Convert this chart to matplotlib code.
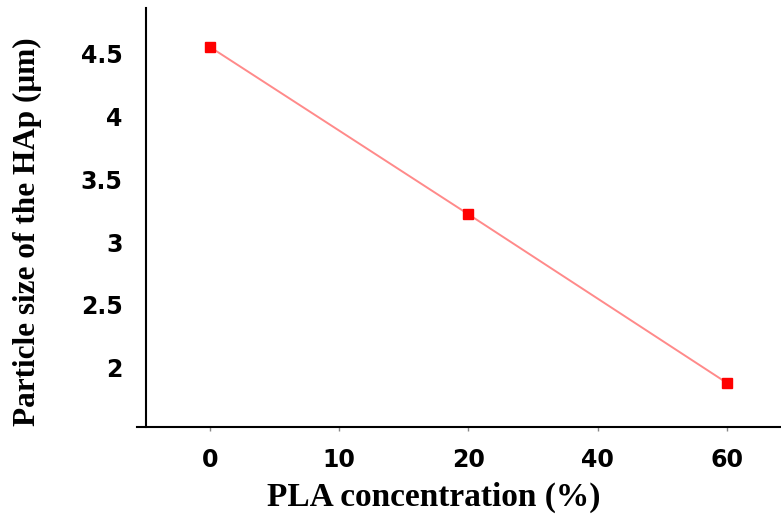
import matplotlib
matplotlib.use('Agg')
import matplotlib.pyplot as plt

# x categories are evenly spaced on the axis
tick_labels = ['0', '10', '20', '40', '60']
pla_conc = ['0', '20', '60']
particle_size = [4.55, 3.22, 1.88]

fig = plt.figure(figsize=(7.81, 5.17), dpi=100)
ax = fig.add_axes([137 / 781, 90 / 517, 1 - 137 / 781, 419 / 517])

xpos = [tick_labels.index(c) for c in pla_conc]
ax.plot(xpos, particle_size, color='#ff8a8a', linewidth=1.4, zorder=2)
ax.plot(xpos, particle_size, linestyle='none', marker='s', markersize=6.5,
        color='#ff0000', zorder=3)

ax.set_xlim(-0.565, 4.418)
ax.set_ylim(1.53, 4.86)
ax.set_xticks(range(len(tick_labels)))
ax.set_xticklabels(tick_labels)
ax.set_yticks([2, 2.5, 3, 3.5, 4, 4.5])
ax.set_yticklabels(['2', '2.5', '3', '3.5', '4', '4.5'])

for s in ['top', 'right']:
    ax.spines[s].set_visible(False)
ax.spines['left'].set_position(('data', -0.495))
ax.spines['left'].set_linewidth(1.5)
ax.spines['bottom'].set_linewidth(1.5)

ax.tick_params(axis='x', length=3, width=1, color='#888888', pad=12,
               labelsize=17)
ax.tick_params(axis='y', length=0, pad=17, labelsize=17)
for lab in ax.get_xticklabels() + ax.get_yticklabels():
    lab.set_fontweight('bold')

ax.set_xlabel('PLA concentration (%)', fontsize=24, fontweight='bold',
              family='Liberation Serif')
ax.set_ylabel('Particle size of the HAp (μm)', fontsize=22.5, fontweight='bold',
              family='Liberation Serif')
ax.yaxis.set_label_coords(-0.1475, 0.465)
ax.xaxis.set_label_coords(0.461, -0.13)

fig.savefig('out.png', dpi=100)
